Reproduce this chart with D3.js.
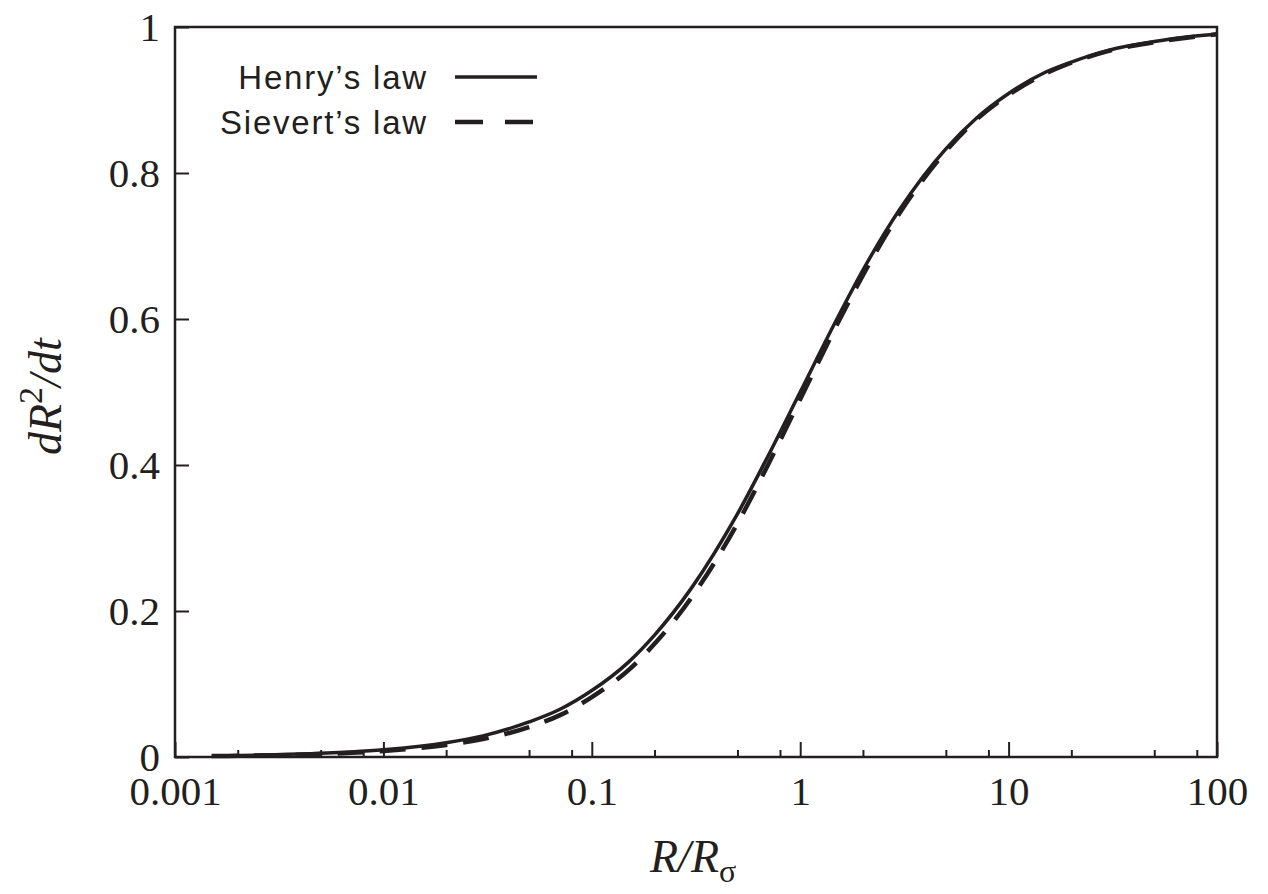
<!DOCTYPE html>
<html>
<head>
<meta charset="utf-8">
<script src="https://cdn.jsdelivr.net/npm/d3@7"></script>
<style>
	body { margin: 0; background: #fff; }
	.tick text { font-family: 'Liberation Serif', 'Times New Roman', serif; fill: #231f20; }
	.domain { display: none; }
</style>
</head>
<body>
<svg id="chart"></svg>
<script>
// values
let ratio = [0.0015, 0.002, 0.003, 0.005, 0.007, 0.01, 0.02, 0.03, 0.05, 0.07, 0.1, 0.15, 0.2, 0.3, 0.5, 0.7, 1, 1.5, 2, 3, 5, 7, 10, 15, 20, 30, 50, 70, 100];
let henry = [0.0015, 0.002, 0.003, 0.005, 0.007, 0.0099, 0.0196, 0.029, 0.048, 0.065, 0.091, 0.130, 0.167, 0.231, 0.333, 0.412, 0.500, 0.600, 0.667, 0.750, 0.833, 0.875, 0.909, 0.938, 0.952, 0.968, 0.980, 0.986, 0.990];
let sievert = [0.0012, 0.0016, 0.0024, 0.004, 0.0057, 0.0082, 0.0165, 0.0245, 0.041, 0.057, 0.082, 0.119, 0.155, 0.218, 0.320, 0.400, 0.490, 0.592, 0.660, 0.745, 0.830, 0.873, 0.907, 0.936, 0.951, 0.967, 0.979, 0.985, 0.990];
let xMajor = [0.001, 0.01, 0.1, 1, 10, 100];
let xMinorSteps = [2, 5, 8];
let yTicks = [0, 0.2, 0.4, 0.6, 0.8, 1];
let xLabels = ['0.001', '0.01', '0.1', '1', '10', '100'];
let legendLabels = ['Henry\u2019s law', 'Sievert\u2019s law'];

let ink = '#231f20';
let W = 1268, H = 894;
let margin = { top: 27, right: 51, bottom: 137, left: 175 };
let width = W - margin.left - margin.right;
let height = H - margin.top - margin.bottom;

let svg = d3.select('svg#chart')
	.attr('width', W)
	.attr('height', H);
let g = svg.append('g')
	.attr('transform', 'translate(' + margin.left + ',' + margin.top + ')');

let x = d3.scaleLog()
	.domain([0.001, 100])
	.range([0, width]);
let y = d3.scaleLinear()
	.domain([0, 1])
	.range([height, 0]);

// minor ticks at 2, 5, 8 of each decade
let minor = [];
xMajor.slice(0, -1).forEach(function(d) {
	xMinorSteps.forEach(function(s) { minor.push(d * s); });
});

g.append('g')
	.attr('class', 'x-minor')
	.attr('transform', 'translate(0,' + height + ')')
	.call(d3.axisBottom(x).tickValues(minor).tickSize(-7).tickFormat(''));

g.append('g')
	.attr('class', 'x-axis')
	.attr('transform', 'translate(0,' + height + ')')
	.call(d3.axisBottom(x).tickValues(xMajor).tickSize(-15).tickPadding(19)
		.tickFormat(function(d, i) { return xLabels[i]; }));

g.append('g')
	.attr('class', 'y-axis')
	.call(d3.axisLeft(y).tickValues(yTicks).tickSize(-14).tickPadding(15)
		.tickFormat(d3.format('~g')));

g.selectAll('.tick line')
	.attr('stroke', ink)
	.attr('stroke-width', 2);
g.selectAll('.tick text')
	.style('font-size', '41px');
g.selectAll('.y-axis .tick text')
	.attr('dy', '0.32em');

// frame
g.append('rect')
	.attr('x', 0)
	.attr('y', 0)
	.attr('width', width)
	.attr('height', height)
	.attr('fill', 'none')
	.attr('stroke', ink)
	.attr('stroke-width', 2.5);

let line = d3.line()
	.x(function(d) { return x(d[0]); })
	.y(function(d) { return y(d[1]); })
	.curve(d3.curveMonotoneX);

g.append('path')
	.datum(ratio.map(function(r, i) { return [r, sievert[i]]; }))
	.attr('d', line)
	.attr('fill', 'none')
	.attr('stroke', ink)
	.attr('stroke-width', 4.5)
	.attr('stroke-dasharray', '26,16');

g.append('path')
	.datum(ratio.map(function(r, i) { return [r, henry[i]]; }))
	.attr('d', line)
	.attr('fill', 'none')
	.attr('stroke', ink)
	.attr('stroke-width', 3.5);

// legend
let legend = svg.append('g').attr('class', 'legend');
let legendItem = legend.selectAll('.item')
	.data(legendLabels)
	.enter()
	.append('g')
	.attr('class', 'item')
	.attr('transform', function(d, i) { return 'translate(0,' + (77 + i * 45) + ')'; });

legendItem.append('text')
	.attr('x', 428)
	.attr('y', 12)
	.attr('text-anchor', 'end')
	.style('font-family', "'Liberation Sans', Arial, sans-serif")
	.style('font-size', '33px')
	.style('letter-spacing', '1.8px')
	.attr('fill', ink)
	.text(function(d) { return d; });

legendItem.append('line')
	.attr('x1', 455)
	.attr('x2', 537)
	.attr('stroke', ink)
	.attr('stroke-width', function(d, i) { return i == 0 ? 3.5 : 4.5; })
	.attr('stroke-dasharray', function(d, i) { return i == 0 ? null : '28,22'; });

// axis titles
let xTitle = svg.append('text')
	.attr('x', 650)
	.attr('y', 872)
	.style('font-family', "'Liberation Serif', 'Times New Roman', serif")
	.style('font-size', '46px')
	.style('font-style', 'italic')
	.attr('fill', ink);
xTitle.append('tspan').text('R/R');
xTitle.append('tspan')
	.attr('dy', 10)
	.style('font-size', '32px')
	.style('font-style', 'normal')
	.text('\u03c3');

let yTitle = svg.append('text')
	.attr('transform', 'translate(61,455) rotate(-90)')
	.style('font-family', "'Liberation Serif', 'Times New Roman', serif")
	.style('font-size', '46px')
	.style('font-style', 'italic')
	.attr('fill', ink);
yTitle.append('tspan').text('dR');
yTitle.append('tspan')
	.attr('dy', -19)
	.style('font-size', '34px')
	.style('font-style', 'normal')
	.text('2');
yTitle.append('tspan')
	.attr('dy', 19)
	.text('/dt');
</script>
</body>
</html>
